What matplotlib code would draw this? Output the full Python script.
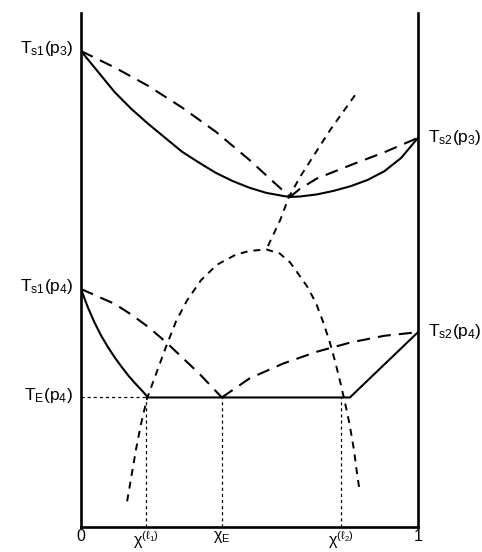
import matplotlib
matplotlib.use('Agg')
import matplotlib.pyplot as plt

plt.rcParams['font.family'] = ['Liberation Sans', 'DejaVu Sans']
plt.rcParams['mathtext.fontset'] = 'custom'
plt.rcParams['mathtext.rm'] = 'Liberation Sans'
plt.rcParams['mathtext.it'] = 'Liberation Sans'
plt.rcParams['mathtext.default'] = 'rm'
plt.rcParams['lines.scale_dashes'] = False

# composition (0..1) and temperature (arbitrary units 0..100)
Ts1_p3 = 92.6
Ts2_p3 = 75.7
Ts1_p4 = 46.3
Ts2_p4 = 37.9
TE_p4 = 25.2
x_l1 = 0.193
x_E = 0.418
x_l2 = 0.772
x_kink = 0.798

# upper isobar p3: liquid (solid line) and vapour branches (long dashes)
up_solid_x = [0, 0.05, 0.10, 0.15, 0.20, 0.25, 0.30, 0.35, 0.40, 0.45, 0.50, 0.55, 0.60, 0.62,
              0.65, 0.70, 0.75, 0.80, 0.85, 0.90, 0.95, 1]
up_solid_y = [Ts1_p3, 88.6, 84.6, 81.3, 78.4, 75.7, 73.0, 70.9, 68.9, 67.3, 66.0, 65.0, 64.4, 64.2,
              64.3, 64.7, 65.4, 66.3, 67.5, 69.2, 71.8, Ts2_p3]
up_dash_l_x = [0, 0.10, 0.20, 0.30, 0.40, 0.50, 0.55, 0.60, 0.62]
up_dash_l_y = [Ts1_p3, 89.4, 85.8, 81.6, 76.9, 71.4, 68.4, 65.4, 64.2]
up_dash_r_x = [0.62, 0.65, 0.70, 0.80, 0.90, 1]
up_dash_r_y = [64.2, 65.8, 67.8, 70.4, 72.9, Ts2_p3]

# lower isobar p4
lo_solid_x = [0, 0.02, 0.04, 0.06, 0.08, 0.10, 0.12, 0.14, 0.16, 0.18, 0.199, x_kink, 1]
lo_solid_y = [Ts1_p4, 42.8, 39.8, 37.2, 35.0, 33.0, 31.2, 29.5, 28.0, 26.6, TE_p4, TE_p4, Ts2_p4]
lo_dash_l_x = [0, 0.10, 0.15, 0.20, 0.25, 0.30, 0.35, x_E]
lo_dash_l_y = [Ts1_p4, 43.4, 41.3, 38.9, 36.1, 33.0, 29.9, TE_p4]
lo_dash_r_x = [x_E, 0.50, 0.60, 0.70, 0.80, 0.90, 1]
lo_dash_r_y = [TE_p4, 28.9, 31.8, 34.1, 35.9, 37.2, Ts2_p4]

# miscibility gap (short dashes) and the line of minima above it
gap_x = [0.137, 0.150, 0.163, 0.178, 0.196, 0.224, 0.252, 0.282, 0.314, 0.356, 0.403, 0.460,
         0.50, 0.55, 0.59, 0.62, 0.641, 0.672, 0.697, 0.718, 0.738, 0.755, 0.770, 0.784,
         0.797, 0.810, 0.820, 0.827]
gap_y = [5, 10, 15, 20, 25, 30, 35, 40, 44, 48, 51, 53,
         53.7, 54.0, 53.2, 51.5, 49.6, 46.7, 43.6, 40, 36, 32, 28, 24,
         20, 15, 10, 7]
min_x = [0.813, 0.739, 0.650, 0.617, 0.591, 0.55]
min_y = [84.0, 77.2, 68.1, 64.2, 59.7, 54.0]

fig = plt.figure(figsize=(4.82, 5.52), dpi=100)
ax = fig.add_axes([0.168, 0.0453, 0.6992, 0.9312])

long_dash = (0, (9.4, 5.8))
short_dash = (0, (5.0, 4.3))
dot = (0, (2.2, 2.2))

ax.plot(up_solid_x, up_solid_y, color='black', lw=1.5)
ax.plot(up_dash_l_x, up_dash_l_y, color='black', lw=1.5, linestyle=long_dash)
ax.plot(up_dash_r_x, up_dash_r_y, color='black', lw=1.5, linestyle=long_dash)

ax.plot(lo_solid_x, lo_solid_y, color='black', lw=1.5)
ax.plot(lo_dash_l_x, lo_dash_l_y, color='black', lw=1.5, linestyle=long_dash)
ax.plot(lo_dash_r_x, lo_dash_r_y, color='black', lw=1.5, linestyle=long_dash)

ax.plot(gap_x, gap_y, color='black', lw=1.4, linestyle=short_dash)
ax.plot(min_x, min_y, color='black', lw=1.4, linestyle=short_dash)

# guide lines
ax.plot([0, 0.199], [TE_p4, TE_p4], color='black', lw=0.9, linestyle=dot)
for xv in [x_l1, x_E, x_l2]:
    ax.plot([xv, xv], [0, TE_p4], color='black', lw=0.9, linestyle=dot)

ax.set_xlim(0, 1)
ax.set_ylim(0, 100)
ax.spines['top'].set_visible(False)
for s in ['left', 'right', 'bottom']:
    ax.spines[s].set_linewidth(1.9)
ax.set_yticks([])
ax.set_xticks([0, x_l1, x_E, x_l2, 1])
ax.set_xticklabels(['0', r'$\chi^{(\ell_1)}$', r'$\chi_E$', r'$\chi^{(\ell_2)}$', '1'], fontsize=11.5)
ax.tick_params(axis='x', length=0, pad=1.5)

left_labels = [(Ts1_p3, r'T$_{s1}$(p$_3$)'), (Ts1_p4, r'T$_{s1}$(p$_4$)'), (TE_p4, r'T$_E$(p$_4$)')]
for yv, txt in left_labels:
    ax.annotate(txt, (0, yv), xytext=(-5.5, -1.5), textcoords='offset points',
                ha='right', va='baseline', fontsize=12.5, annotation_clip=False)
right_labels = [(Ts2_p3, r'T$_{s2}$(p$_3$)'), (Ts2_p4, r'T$_{s2}$(p$_4$)')]
for yv, txt in right_labels:
    ax.annotate(txt, (1, yv), xytext=(7, -3), textcoords='offset points',
                ha='left', va='baseline', fontsize=12.5, annotation_clip=False)

fig.savefig('out.png', dpi=100)
